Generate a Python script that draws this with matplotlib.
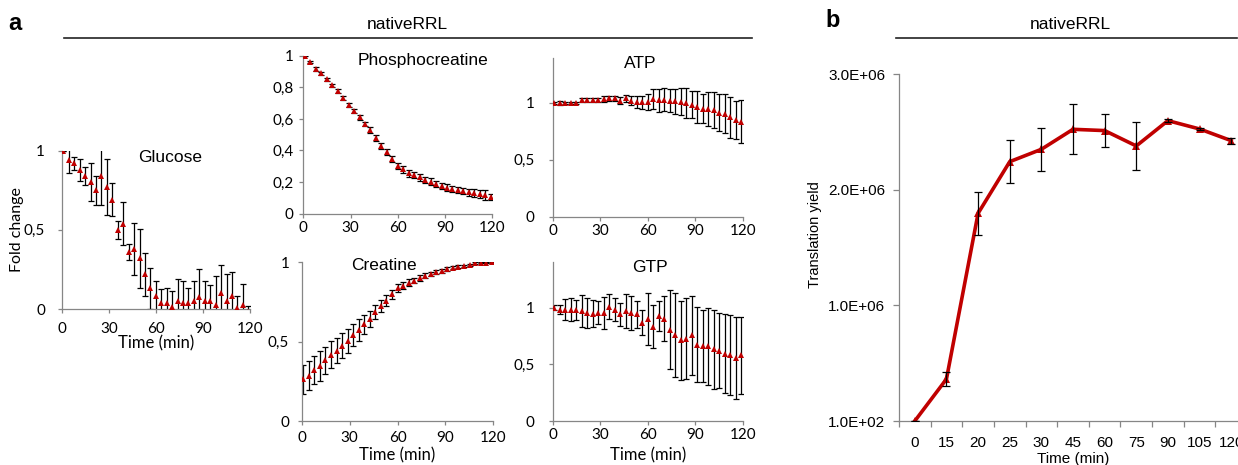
import matplotlib
matplotlib.use('Agg')
import matplotlib.pyplot as plt
from matplotlib.lines import Line2D
from matplotlib.ticker import FuncFormatter, FixedLocator

W, H = 1238, 465
RED = '#C00000'
GRAY = '#868686'

# sampling times (min), panel a
time_min = [1.0, 4.5, 7.9, 11.4, 14.9, 18.4, 21.8, 25.3, 28.8, 32.2, 35.7, 39.2,
            42.6, 46.1, 49.6, 53.1, 56.5, 60.0, 63.5, 66.9, 70.4, 73.9, 77.3, 80.8,
            84.3, 87.8, 91.2, 94.7, 98.2, 101.6, 105.1, 108.6, 112.0, 115.5, 119.0]

glucose = [1.0, 0.94, 0.92, 0.88, 0.84, 0.8, 0.75, 0.84, 0.77, 0.69, 0.5, 0.54,
           0.36, 0.38, 0.32, 0.22, 0.13, 0.08, 0.04, 0.04, 0.015, 0.05, 0.035, 0.035,
           0.05, 0.075, 0.05, 0.05, 0.025, 0.1, 0.05, 0.08, 0.005, 0.025, -0.02]
glucose_err = [0.0, 0.08, 0.04, 0.07, 0.055, 0.12, 0.09, 0.18, 0.175, 0.105, 0.055, 0.135,
               0.05, 0.165, 0.185, 0.135, 0.13, 0.1, 0.085, 0.09, 0.1, 0.14, 0.145, 0.1,
               0.125, 0.175, 0.13, 0.1, 0.185, 0.175, 0.17, 0.155, 0.075, 0.13, 0.04]

phosphocreatine = [1.0, 0.96, 0.916, 0.888, 0.85, 0.812, 0.776, 0.734, 0.69, 0.65, 0.61, 0.567,
                   0.53, 0.479, 0.428, 0.39, 0.346, 0.304, 0.28, 0.255, 0.243, 0.23, 0.213, 0.203,
                   0.188, 0.175, 0.165, 0.156, 0.148, 0.143, 0.137, 0.129, 0.122, 0.118, 0.105]
phosphocreatine_err = [0.005, 0.008, 0.01, 0.01, 0.012, 0.012, 0.012, 0.012, 0.012, 0.012, 0.014, 0.015,
                       0.017, 0.02, 0.02, 0.02, 0.02, 0.02, 0.02, 0.02, 0.02, 0.02, 0.02, 0.02,
                       0.02, 0.02, 0.02, 0.02, 0.02, 0.02, 0.022, 0.025, 0.025, 0.03, 0.02]

atp = [1.0, 1.0, 1.0, 1.0, 1.0, 1.025, 1.025, 1.025, 1.025, 1.035, 1.04, 1.04,
       1.02, 1.04, 1.02, 1.01, 1.005, 1.01, 1.035, 1.025, 1.03, 1.02, 1.015, 1.01,
       1.0, 0.985, 0.965, 0.95, 0.945, 0.94, 0.915, 0.905, 0.875, 0.85, 0.835]
atp_err = [0.01, 0.015, 0.01, 0.01, 0.01, 0.015, 0.015, 0.02, 0.02, 0.025, 0.025, 0.025,
           0.03, 0.03, 0.04, 0.05, 0.06, 0.07, 0.09, 0.1, 0.1, 0.1, 0.11, 0.12,
           0.13, 0.12, 0.14, 0.13, 0.15, 0.16, 0.16, 0.17, 0.18, 0.17, 0.19]

creatine = [0.263, 0.286, 0.321, 0.347, 0.384, 0.416, 0.443, 0.475, 0.506, 0.542, 0.573, 0.611,
            0.641, 0.689, 0.725, 0.758, 0.798, 0.836, 0.853, 0.872, 0.885, 0.901, 0.916, 0.926,
            0.937, 0.945, 0.958, 0.966, 0.973, 0.977, 0.985, 0.994, 0.998, 0.998, 1.0]
creatine_err = [0.09, 0.09, 0.09, 0.095, 0.085, 0.085, 0.08, 0.08, 0.075, 0.07, 0.07, 0.06,
                0.05, 0.045, 0.04, 0.035, 0.03, 0.025, 0.02, 0.02, 0.018, 0.016, 0.015, 0.014,
                0.012, 0.012, 0.01, 0.01, 0.008, 0.008, 0.006, 0.005, 0.004, 0.004, 0.003]

gtp = [1.0, 0.982, 0.982, 0.982, 0.977, 0.968, 0.953, 0.947, 0.956, 0.956, 1.006, 0.982,
       0.941, 0.968, 0.956, 0.941, 0.865, 0.903, 0.83, 0.927, 0.903, 0.806, 0.757, 0.713,
       0.727, 0.757, 0.674, 0.663, 0.66, 0.633, 0.619, 0.595, 0.581, 0.557, 0.581]
gtp_err = [0.02, 0.04, 0.09, 0.1, 0.09, 0.14, 0.13, 0.12, 0.1, 0.14, 0.11, 0.1,
           0.1, 0.15, 0.15, 0.12, 0.11, 0.23, 0.19, 0.13, 0.2, 0.35, 0.37, 0.35,
           0.36, 0.35, 0.33, 0.32, 0.34, 0.35, 0.33, 0.35, 0.35, 0.36, 0.34]

# panel b
b_categories = ['0', '15', '20', '25', '30', '45', '60', '75', '90', '105', '120']
b_yield = [100, 363000, 1797000, 2244000, 2351000, 2524000, 2513000, 2380000, 2599000, 2527000, 2426000]
b_err = [0, 58000, 185000, 185000, 188000, 217000, 144000, 205000, 12000, 10000, 26000]
b_yticks = [0, 1e6, 2e6, 3e6]
b_ytick_labels = ['1.0E+02', '1.0E+06', '2.0E+06', '3.0E+06']

fig = plt.figure(figsize=(W / 100, H / 100), dpi=100)


def add_ax(left, top, right, bottom):
    return fig.add_axes([left / W, 1 - bottom / H, (right - left) / W, (bottom - top) / H])


def ftext(x, y, s, **kw):
    fig.text(x / W, 1 - y / H, s, **kw)


comma = FuncFormatter(lambda v, _: ('%g' % round(v, 3)).replace('.', ','))


def panel(ax, y, err, ylim, yticks, xpad, ypad):
    ax.errorbar(time_min, y, yerr=err, fmt='none', ecolor='black', elinewidth=0.9,
                capsize=2.4, capthick=0.9, zorder=2)
    ax.plot(time_min, y, '^', color=RED, ms=5, mew=0, zorder=3)
    ax.set_xlim(0, 120)
    ax.set_ylim(*ylim)
    ax.set_xticks([0, 30, 60, 90, 120])
    ax.set_yticks(yticks)
    ax.yaxis.set_major_formatter(comma)
    for s in ['top', 'right']:
        ax.spines[s].set_visible(False)
    for s in ['left', 'bottom']:
        ax.spines[s].set_color(GRAY)
        ax.spines[s].set_linewidth(0.9)
    ax.tick_params(axis='both', direction='out', length=3, width=0.9, color=GRAY,
                   labelsize=11)
    ax.tick_params(axis='x', pad=xpad)
    ax.tick_params(axis='y', pad=ypad)
    for lab in ax.get_xticklabels() + ax.get_yticklabels():
        lab.set_fontfamily('Lato')
    ax.patch.set_alpha(0)


ax_glu = add_ax(61.7, 150.7, 250, 309)
panel(ax_glu, glucose, glucose_err, (0, 1), [0, 0.5, 1], 6, 9)
ax_pc = add_ax(303.3, 55.7, 492.3, 213.7)
panel(ax_pc, phosphocreatine, phosphocreatine_err, (0, 1), [0, 0.2, 0.4, 0.6, 0.8, 1], 2, 4)
ax_atp = add_ax(552.7, 57.5, 742.7, 216.7)
panel(ax_atp, atp, atp_err, (0, 1.4), [0, 0.5, 1], 2, 10)
ax_cr = add_ax(301.7, 262.3, 493.3, 421)
panel(ax_cr, creatine, creatine_err, (0, 1), [0, 0.5, 1], 4, 6)
ax_gtp = add_ax(552.7, 262.3, 742.7, 421)
panel(ax_gtp, gtp, gtp_err, (0, 1.4), [0, 0.5, 1], 2, 10)

title_kw = dict(fontsize=12.5, family='Liberation Sans', ha='center', va='center')
ftext(170, 157, 'Glucose', **title_kw)
ftext(423, 61, 'Phosphocreatine', **title_kw)
ftext(640, 63, 'ATP', **title_kw)
ftext(384, 266, 'Creatine', **title_kw)
ftext(650, 267, 'GTP', **title_kw)

lab_kw = dict(fontsize=12, family='Lato', ha='center', va='center')
ftext(156, 343, 'Time (min)', **lab_kw)
ftext(397, 455, 'Time (min)', **lab_kw)
ftext(648, 455, 'Time (min)', **lab_kw)
ftext(17, 230, 'Fold change', rotation=90, fontsize=11.5, family='Lato', ha='center', va='center')

# panel b
axb = add_ax(899, 74.3, 1247, 421)
xs = list(range(len(b_categories)))
axb.plot(xs, b_yield, '-', color=RED, lw=2.6, zorder=2)
axb.plot(xs, b_yield, '^', color=RED, ms=5.5, mew=0, zorder=3)
axb.errorbar(xs, b_yield, yerr=b_err, fmt='none', ecolor='black', elinewidth=0.9,
             capsize=2.6, capthick=0.9, zorder=4)
axb.set_xlim(-0.5, len(b_categories) - 0.5)
axb.set_ylim(0, 3e6)
axb.set_yticks(b_yticks)
axb.set_yticklabels(b_ytick_labels)
axb.set_xticks(xs)
axb.set_xticklabels(b_categories)
axb.xaxis.set_minor_locator(FixedLocator([i - 0.5 for i in range(len(b_categories) + 1)]))
for s in ['top', 'right']:
    axb.spines[s].set_visible(False)
for s in ['left', 'bottom']:
    axb.spines[s].set_color(GRAY)
    axb.spines[s].set_linewidth(0.9)
axb.tick_params(axis='x', which='major', length=0, pad=11, labelsize=11)
axb.tick_params(axis='x', which='minor', direction='out', length=4, width=0.9, color=GRAY)
axb.tick_params(axis='y', direction='out', length=4, width=0.9, color=GRAY, labelsize=11, pad=6)
for lab in axb.get_xticklabels() + axb.get_yticklabels():
    lab.set_fontfamily('Liberation Sans')
ftext(815, 235, 'Translation yield', rotation=90, fontsize=10.5, family='Liberation Sans',
      ha='center', va='center')
ftext(1073, 459, 'Time (min)', fontsize=11, family='Liberation Sans', ha='center', va='center')

# headers
ftext(15, 30.5, 'a', fontsize=17, fontweight='bold', family='Liberation Sans', ha='center', va='baseline')
ftext(833, 27, 'b', fontsize=17, fontweight='bold', family='Liberation Sans', ha='center', va='baseline')
ftext(407, 29, 'nativeRRL', fontsize=12.5, family='Liberation Sans', ha='center', va='baseline')
ftext(1070, 29, 'nativeRRL', fontsize=12.5, family='Liberation Sans', ha='center', va='baseline')
fig.add_artist(Line2D([64 / W, 752 / W], [1 - 38.5 / H] * 2, color='#222222', lw=1.2))
fig.add_artist(Line2D([896 / W, 1237 / W], [1 - 38.5 / H] * 2, color='#222222', lw=1.2))

fig.savefig('out.png', dpi=100)
